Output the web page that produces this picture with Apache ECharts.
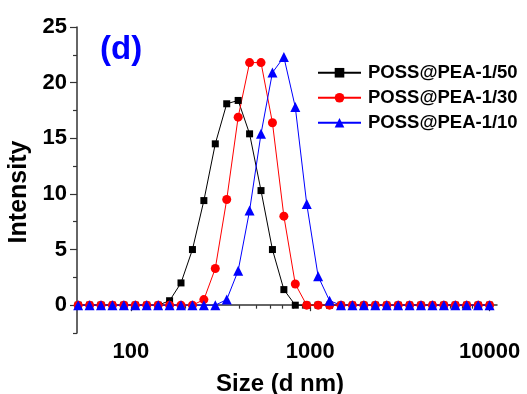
<!DOCTYPE html>
<html>
<head>
<meta charset="utf-8">
<script src="https://cdn.jsdelivr.net/npm/echarts@6/dist/echarts.min.js"></script>
<style>
  html, body { margin: 0; padding: 0; background: #fff; }
  #chart { width: 527px; height: 394px; }
</style>
</head>
<body>
<div id="chart"></div>
<script>
// size bins (d nm)
var sizes = [50.75, 58.77, 68.06, 78.82, 91.28, 105.7, 122.4, 141.8, 164.2, 190.1,
  220.2, 255.0, 295.3, 342.0, 396.1, 458.7, 531.2, 615.1, 712.4, 825.0,
  955.4, 1106, 1281, 1484, 1718, 1990, 2305, 2669, 3091, 3580,
  4145, 4801, 5560, 6439, 7456, 8635, 10000];

var pea50 = [0, 0, 0, 0, 0, 0, 0, 0, 0.4, 2.0,
  5.0, 9.4, 14.5, 18.1, 18.4, 15.4, 10.3, 5.0, 1.4, 0,
  0, 0, 0, 0, 0, 0, 0, 0, 0, 0,
  0, 0, 0, 0, 0, 0, 0];
var pea30 = [0, 0, 0, 0, 0, 0, 0, 0, 0, 0,
  0, 0.5, 3.3, 9.5, 16.9, 21.8, 21.8, 16.4, 8.0, 1.9,
  0, 0, 0, 0, 0, 0, 0, 0, 0, 0,
  0, 0, 0, 0, 0, 0, 0];
var pea10 = [0, 0, 0, 0, 0, 0, 0, 0, 0, 0,
  0, 0, 0, 0.5, 3.1, 8.5, 15.4, 20.9, 22.3, 17.8,
  9.1, 2.6, 0.4, 0, 0, 0, 0, 0, 0, 0,
  0, 0, 0, 0, 0, 0, 0];

var xMajor = [100, 1000, 10000];
var xMinor = [50, 60, 70, 80, 90, 200, 300, 400, 500, 600, 700, 800, 900,
  2000, 3000, 4000, 5000, 6000, 7000, 8000, 9000];
var yMajor = [0, 5, 10, 15, 20, 25];
var yMinor = [-2.5, 2.5, 7.5, 12.5, 17.5, 22.5];

var FONT = 'Liberation Sans, Arial, sans-serif';
var AXIS_COLOR = '#333';

function pairs(ys) {
  return sizes.map(function (s, i) { return [s, ys[i]]; });
}

var chart = echarts.init(document.getElementById('chart'), null, { renderer: 'canvas' });

var option = {
  animation: false,
  backgroundColor: '#fff',
  textStyle: { fontFamily: FONT },
  title: {
    text: '(d)',
    left: 95,
    top: 28,
    textStyle: { color: '#0000ff', fontSize: 33, fontWeight: 'bold', fontFamily: FONT }
  },
  grid: { left: 77, right: 30, top: 27, bottom: 61, outerBoundsMode: 'none' },
  legend: {
    orient: 'vertical',
    left: 312,
    top: 57,
    itemWidth: 43,
    itemHeight: 12,
    itemGap: 3.5,
    textStyle: { fontSize: 18.5, fontWeight: 'bold', color: '#000', fontFamily: FONT, lineHeight: 21.5, padding: [0, 0, 0, 2] },
    data: ['POSS@PEA-1/50', 'POSS@PEA-1/30', 'POSS@PEA-1/10']
  },
  xAxis: [{
    type: 'log',
    min: 50,
    max: 11000,
    position: 'bottom',
    name: 'Size (d nm)',
    nameLocation: 'middle',
    nameGap: 39,
    nameTextStyle: { fontSize: 24, fontWeight: 'bold', color: '#000', fontFamily: FONT, padding: [0, 14, 0, 0] },
    axisLine: { lineStyle: { color: AXIS_COLOR, width: 1.5 } },
    axisTick: { length: 6, lineStyle: { color: AXIS_COLOR, width: 1.2 }, customValues: xMajor },
    axisLabel: {
      fontSize: 22, fontWeight: 'bold', color: '#000', margin: 8, customValues: xMajor,
      formatter: function (v) { return String(Math.round(v)); }
    },
    splitLine: { show: false }
  }, {
    type: 'log',
    min: 50,
    max: 11000,
    position: 'bottom',
    axisLine: { show: false },
    axisTick: { length: 3.5, lineStyle: { color: AXIS_COLOR, width: 1.2 }, customValues: xMinor },
    axisLabel: { show: false },
    splitLine: { show: false }
  }],
  yAxis: [{
    type: 'value',
    min: -2.5,
    max: 25,
    position: 'left',
    name: 'Intensity',
    nameLocation: 'middle',
    nameGap: 44,
    nameTextStyle: { fontSize: 25, fontWeight: 'bold', color: '#000', fontFamily: FONT, padding: [0, 24, 0, 0] },
    axisLine: { show: true, lineStyle: { color: AXIS_COLOR, width: 1.5 } },
    axisTick: { show: true, length: 7, lineStyle: { color: AXIS_COLOR, width: 1.2 }, customValues: yMajor },
    axisLabel: { fontSize: 22, fontWeight: 'bold', color: '#000', margin: 10, customValues: yMajor },
    splitLine: { show: false }
  }, {
    type: 'value',
    min: -2.5,
    max: 25,
    position: 'left',
    axisLine: { show: false },
    axisTick: { show: true, length: 4, lineStyle: { color: AXIS_COLOR, width: 1.2 }, customValues: yMinor },
    axisLabel: { show: false },
    splitLine: { show: false }
  }],
  series: [{
    name: 'POSS@PEA-1/50',
    type: 'line',
    data: pairs(pea50),
    symbol: 'rect',
    symbolSize: 7,
    lineStyle: { color: '#000', width: 1 },
    itemStyle: { color: '#000' }
  }, {
    name: 'POSS@PEA-1/30',
    type: 'line',
    data: pairs(pea30),
    symbol: 'circle',
    symbolSize: 9,
    lineStyle: { color: '#ff0000', width: 1 },
    itemStyle: { color: '#ff0000' }
  }, {
    name: 'POSS@PEA-1/10',
    type: 'line',
    data: pairs(pea10),
    symbol: 'triangle',
    symbolSize: 10,
    lineStyle: { color: '#0000ff', width: 1 },
    itemStyle: { color: '#0000ff' }
  }]
};

chart.setOption(option);
</script>
</body>
</html>
